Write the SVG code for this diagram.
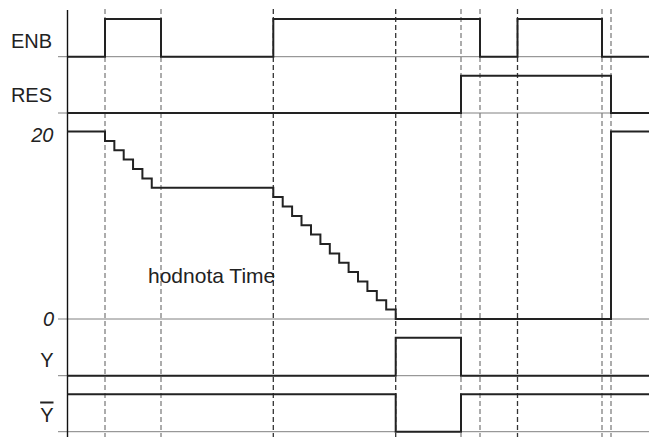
<svg xmlns="http://www.w3.org/2000/svg" width="650" height="437" viewBox="0 0 650 437">
<style>
.lbl{font-family:"Liberation Sans",Arial,sans-serif;font-size:20px;fill:#222}
.it{font-style:italic}
.base{stroke:#808080;stroke-width:1;fill:none}
.sig{stroke:#222;stroke-width:2;fill:none;stroke-linejoin:miter}
.dg{stroke:#808080;stroke-width:1.3;stroke-dasharray:5 3;fill:none}
.dk{stroke:#333;stroke-width:1.3;stroke-dasharray:5 3;fill:none}
</style>
<rect width="650" height="437" fill="#fff"/>
<g id="grid">
<line class="dg" x1="105" y1="9" x2="105" y2="437"/>
<line class="dg" x1="161" y1="9" x2="161" y2="437"/>
<line class="dk" x1="273.3" y1="9" x2="273.3" y2="437"/>
<line class="dk" x1="395.7" y1="9" x2="395.7" y2="437"/>
<line class="dg" x1="461" y1="9" x2="461" y2="437"/>
<line class="dg" x1="480" y1="9" x2="480" y2="437"/>
<line class="dk" x1="517.5" y1="9" x2="517.5" y2="437"/>
<line class="dg" x1="602" y1="9" x2="602" y2="437"/>
<line class="dg" x1="611" y1="9" x2="611" y2="437"/>
</g>
<g id="baselines">
<line class="base" x1="58" y1="56.7" x2="649" y2="56.7"/>
<line class="base" x1="58" y1="113" x2="649" y2="113"/>
<line class="base" x1="58" y1="319" x2="649" y2="319"/>
<line class="base" x1="58" y1="375.7" x2="649" y2="375.7"/>
<line class="base" x1="58" y1="431.7" x2="649" y2="431.7"/>
</g>
<g id="axis">
<line x1="67.5" y1="10" x2="67.5" y2="437" stroke="#111" stroke-width="1.4"/>
</g>
<g id="labels">
<text class="lbl" x="52" y="47.5" text-anchor="end">ENB</text>
<text class="lbl" x="52" y="101.5" text-anchor="end">RES</text>
<text class="lbl it" x="53.5" y="141.5" text-anchor="end">20</text>
<text class="lbl it" x="54" y="326" text-anchor="end">0</text>
<text class="lbl" x="53.5" y="366.5" text-anchor="end">Y</text>
<text class="lbl" x="53.5" y="421.5" text-anchor="end" style="text-decoration:overline">Y</text>
<text class="lbl" x="148" y="283.3" style="font-size:21px">hodnota Time</text>
</g>
<g id="signals">
<path id="enb" class="sig" d="M67.5,56.7 H105 V19 H161 V56.7 H273.3 V19 H480 V56.7 H517.5 V19 H602 V56.7 H649"/>
<path id="res" class="sig" d="M67.5,113 H461 V75.7 H611 V113 H649"/>
<path id="time" class="sig" d="M67.5,131.5 H105 V140.9 H114.35 V150.25 H123.7 V159.6 H133.05 V169 H142.4 V178.4 H151.75 V187.75 H273.3 V197.1 H282.7 V206.5 H292.1 V215.9 H301.5 V225.25 H311 V234.6 H320.4 V244 H329.8 V253.4 H339.2 V262.75 H348.6 V272.1 H358 V281.5 H367.4 V290.9 H376.8 V300.25 H386.2 V309.6 H395.7 V319 H611 V131.5 H649"/>
<path id="y" class="sig" d="M67.5,375.7 H395.7 V337.7 H461 V375.7 H649"/>
<path id="ybar" class="sig" d="M67.5,394.3 H395.7 V431.7 H461 V394.3 H649"/>
</g>
</svg>
